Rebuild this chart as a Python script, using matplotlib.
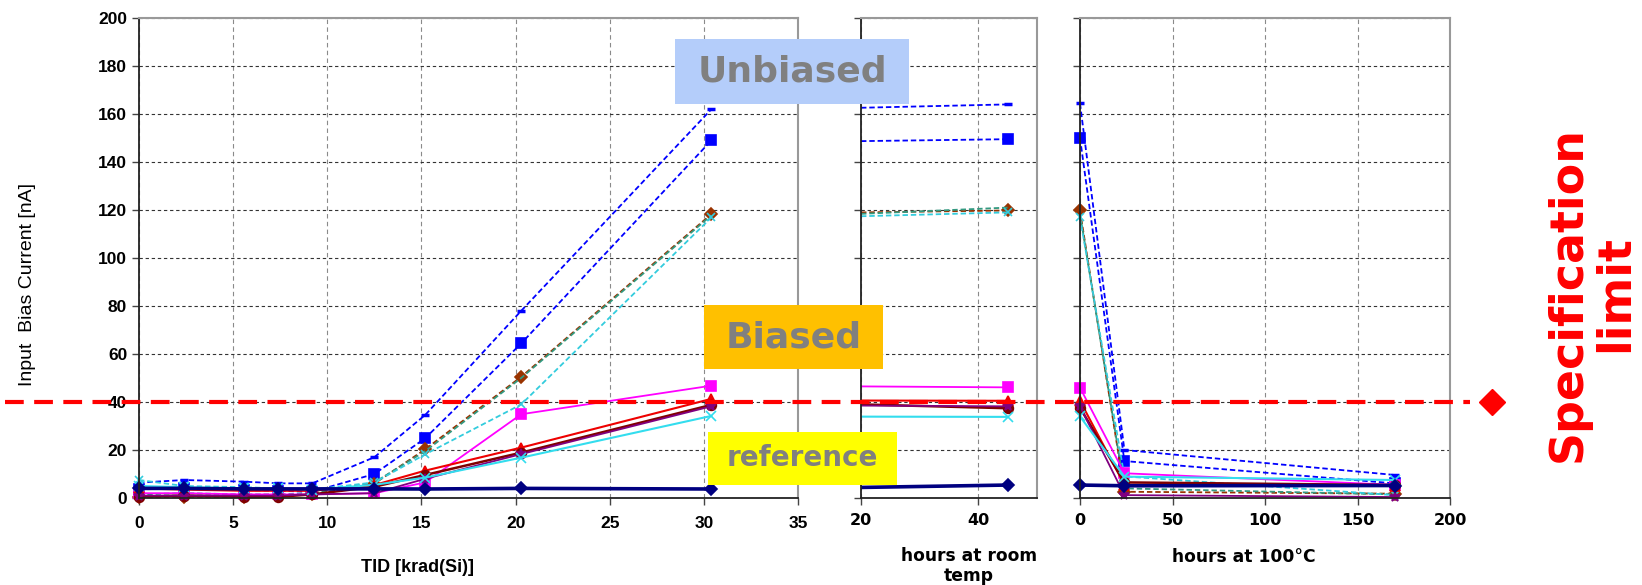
import numpy as np
import matplotlib
matplotlib.use("Agg")
import matplotlib.pyplot as plt
from matplotlib import transforms
from matplotlib.lines import Line2D
from matplotlib.patches import Rectangle

# x positions of the three phases
tid = [0, 2.4, 5.6, 7.4, 9.2, 12.5, 15.2, 20.3, 30.4]   # krad(Si)
room_h = [20, 45]                                         # hours at room temp
anneal_h = [0, 24, 170]                                   # hours at 100C

# unbiased parts (dashed)
u1_tid = [6.4, 7.5, 6.8, 6.1, 6.1, 17, 34.6, 78, 162]
u1_room = [162.6, 164]
u1_ann = [164.4, 20, 9.6]
u2_tid = [3.6, 4, 3.3, 3, 2.6, 10, 24.9, 64.4, 149]
u2_room = [148.7, 149.5]
u2_ann = [150, 15.4, 6.1]
u3_tid = [0.3, 0.5, 0.5, 0.8, 1.5, 6, 20.3, 50.5, 118.3]
u3_room = [119, 119.8]
u3_ann = [119.8, 2.6, 1.8]
u4_tid = [1.5, 2, 1.5, 1.5, 2, 6.5, 19.5, 50, 117.8]
u4_room = [118.4, 121]
u4_ann = [118.5, 4, 1.5]
u5_tid = [7.5, 5, 4.5, 4, 3.5, 6.5, 18.2, 39, 116.9]
u5_room = [117.4, 119]
u5_ann = [117, 9, 1.2]

# biased parts (solid)
b1_tid = [2, 2, 1.5, 1.5, 1.5, 2, 6.5, 34.9, 46.8]
b1_room = [46.5, 46.1]
b1_ann = [46, 10.3, 5.5]
b2_tid = [4, 3.5, 3, 3, 3, 5.4, 11.4, 21, 41.3]
b2_room = [40.6, 40.5]
b2_ann = [40.5, 5.5, 5.2]
b3_tid = [0.5, 1, 0.5, 0.5, 1.5, 4.7, 9.6, 18.9, 38.8]
b3_room = [39, 37.4]
b3_ann = [37.6, 6.5, 5.4]
b4_tid = [1, 1, 1, 1, 1.5, 2, 8, 18.3, 38.2]
b4_room = [38.5, 38.2]
b4_ann = [38.2, 1.2, 0.4]
b5_tid = [5, 4.5, 4, 4, 3.5, 5.5, 8.5, 16.8, 34.2]
b5_room = [33.9, 33.8]
b5_ann = [34, 8.9, 7.5]

# reference part
r_tid = [4, 4, 3.8, 3.8, 3.8, 3.8, 3.75, 4, 3.75]
r_room = [4.4, 5.4]
r_ann = [5.4, 5.1, 5.2]

spec_limit = 40

ARIAL = 'Liberation Sans'
WIDE = 'DejaVu Sans'

W, H = 1642, 585
fig = plt.figure(figsize=(W / 100, H / 100), dpi=100)


def fx(px):
    return px / W


def fy(py):
    return 1 - py / H


top, bot = 18, 498
ax1 = fig.add_axes([fx(139), fy(bot), (798 - 139) / W, (bot - top) / H])
ax2 = fig.add_axes([fx(861), fy(bot), (1037 - 861) / W, (bot - top) / H])
ax3 = fig.add_axes([fx(1080), fy(bot), (1450 - 1080) / W, (bot - top) / H])

dash = (0, (3, 1.6))
styles = [
    # (color, linestyle, marker, ms, lw)
    ('#0000FF', dash, '_', 6, 1.3),
    ('#0000FF', dash, 's', 7, 1.3),
    ('#993300', dash, 'D', 6, 1.3),
    ('#339980', dash, None, 0, 1.3),
    ('#33CCDD', dash, 'x', 6, 1.3),
    ('#FF00FF', '-', 's', 7, 1.3),
    ('#EE0000', '-', '^', 7, 1.5),
    ('#800000', '-', 'o', 7, 1.8),
    ('#800080', '-', '*', 7, 1.3),
    ('#33DDEE', '-', 'x', 7, 1.5),
    ('#000080', '-', 'D', 6, 2.6),
]
series_tid = [u1_tid, u2_tid, u3_tid, u4_tid, u5_tid, b1_tid, b2_tid, b3_tid, b4_tid, b5_tid, r_tid]
series_room = [u1_room, u2_room, u3_room, u4_room, u5_room, b1_room, b2_room, b3_room, b4_room, b5_room, r_room]
series_ann = [u1_ann, u2_ann, u3_ann, u4_ann, u5_ann, b1_ann, b2_ann, b3_ann, b4_ann, b5_ann, r_ann]

for (c, ls, m, ms, lw), yt, yr, ya in zip(styles, series_tid, series_room, series_ann):
    kw = dict(color=c, linestyle=ls, lw=lw, marker=m, ms=ms, mew=2.5 if m == '_' else 1.2)
    ax1.plot(tid, yt, clip_on=False, **kw)
    ax2.plot(room_h, yr, markevery=[1], **kw)   # the room-temp trace starts at the axis edge, no marker
    ax3.plot(anneal_h, ya, clip_on=False, **kw)

ax1.set_xlim(0, 35)
ax1.set_xticks(np.arange(0, 36, 5))
ax2.set_xlim(20, 50)
ax2.set_xticks([20, 40])
ax3.set_xlim(0, 200)
ax3.set_xticks([0, 50, 100, 150, 200])

for ax in (ax1, ax2, ax3):
    ax.set_ylim(0, 200)
    ax.set_yticks(np.arange(0, 201, 20))
    ax.yaxis.grid(True, color='#333333', ls=(0, (3, 2.5)), lw=0.8)
    ax.xaxis.grid(True, color='#8a8a8a', ls=(0, (4, 3)), lw=0.8)
    ax.set_axisbelow(True)
    ax.tick_params(direction='out', length=5, width=1, color='#444444')
    ax.spines['top'].set_color('#999999')
    ax.spines['right'].set_color('#999999')
    ax.spines['top'].set_linewidth(1.5)
    ax.spines['right'].set_linewidth(1.5)
    ax.spines['left'].set_color('#222222')
    ax.spines['bottom'].set_color('#222222')
    ax.spines['left'].set_linewidth(1.3)
    ax.spines['bottom'].set_linewidth(1.3)

for lab in ax1.get_xticklabels() + ax1.get_yticklabels():
    lab.set_fontfamily(ARIAL)
    lab.set_fontweight('bold')
    lab.set_fontsize(12.5)
for ax in (ax2, ax3):
    ax.set_yticklabels([])
    for lab in ax.get_xticklabels():
        lab.set_fontfamily(WIDE)
        lab.set_fontweight('bold')
        lab.set_fontsize(11.5)
ax1.tick_params(axis='x', pad=8)
ax2.tick_params(axis='x', pad=6)
ax3.tick_params(axis='x', pad=6)

# axis titles
fig.text(fx(27), fy(284), 'Input  Bias Current [nA]', rotation=90, ha='center', va='center',
         family=ARIAL, fontsize=14)
fig.text(fx(417), fy(568), 'TID [krad(Si)]', ha='center', va='center',
         family=ARIAL, fontweight='bold', fontsize=13)
fig.text(fx(969), fy(566), 'hours at room\ntemp', ha='center', va='center',
         family=WIDE, fontweight='bold', fontsize=12.3, linespacing=1.15)
fig.text(fx(1244), fy(557), 'hours at 100°C', ha='center', va='center',
         family=WIDE, fontweight='bold', fontsize=12.3)

# label boxes
boxes = [
    ('Unbiased', 675, 909, 39, 104, '#B4CDFA', 26),
    ('Biased', 704, 883, 305, 369, '#FFC000', 26),
    ('reference', 708, 897, 432, 485, '#FFFF00', 20),
]
for txt, x0, x1, y0, y1, fc, fs in boxes:
    fig.add_artist(Rectangle((fx(x0), fy(y1)), (x1 - x0) / W, (y1 - y0) / H,
                             transform=fig.transFigure, facecolor=fc, edgecolor='none', zorder=5))
    fig.text(fx((x0 + x1) / 2), fy((y0 + y1) / 2), txt, ha='center', va='center',
             family=WIDE, fontweight='bold', fontsize=fs, color='#808080', zorder=6)

# specification limit line across all panels
blend = transforms.blended_transform_factory(fig.transFigure, ax1.transData)
fig.add_artist(Line2D([fx(5), fx(1470)], [spec_limit, spec_limit], transform=blend,
                      color='#FF0000', lw=3, dashes=(4.5, 2.5), zorder=7))
fig.add_artist(Line2D([fx(1492)], [spec_limit], transform=blend, marker='D', ms=13,
                      color='#FF0000', lw=0, zorder=7))
fig.text(fx(1592), fy(294), 'Specification\nlimit', rotation=90, ha='center', va='center',
         family=WIDE, fontweight='bold', fontsize=33, color='#FF0000', linespacing=1.05)

fig.savefig('out.png', dpi=100)
